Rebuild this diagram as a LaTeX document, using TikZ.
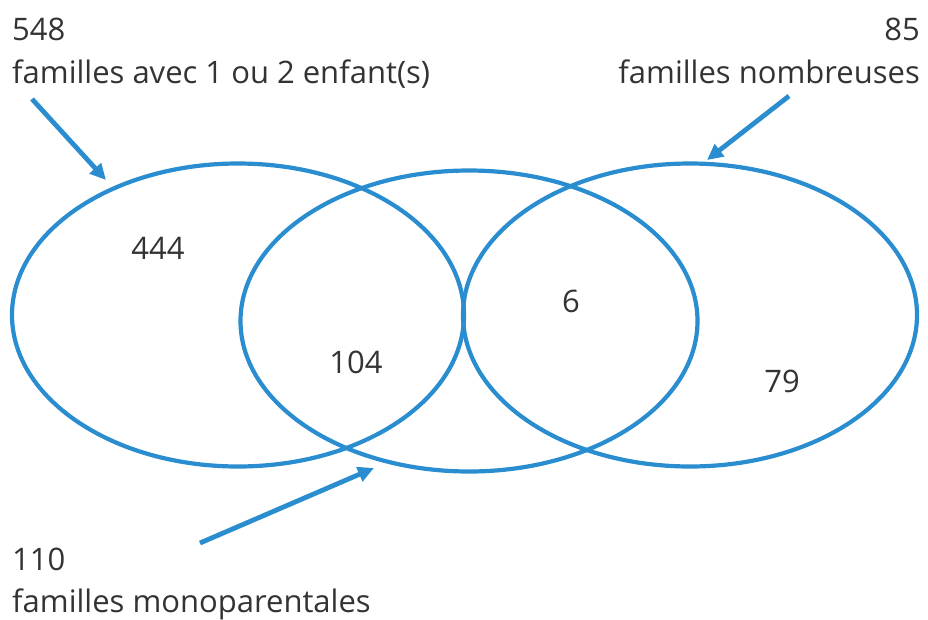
\documentclass[tikz,border=0pt]{standalone}
\usepackage{fontspec}
\setmainfont{Open Sans}
\usetikzlibrary{arrows.meta,shapes.geometric}
\definecolor{vblue}{HTML}{2A8DD0}
\definecolor{vtext}{HTML}{333333}
\tikzset{
  setellipse/.style={draw=vblue, line width=4.2pt, ellipse, inner sep=0pt},
  pointer/.style={draw=vblue, line width=4.8pt, -{Triangle[length=16pt,width=15pt]}},
  lbl/.style={text=vtext, font=\fontsize{31}{36}\selectfont, inner sep=0pt},
}
\begin{document}
\begin{tikzpicture}[x=1pt,y=-1pt]
\useasboundingbox (0,0) rectangle (928,619);
\node[setellipse, minimum width=452pt, minimum height=303pt] (e1) at (238,315) {};
\node[setellipse, minimum width=457pt, minimum height=301pt] (e2) at (469,321) {};
\node[setellipse, minimum width=454pt, minimum height=303pt] (e3) at (690,315) {};

\node[lbl, anchor=base west] (t1) at (12,40) {548};
\node[lbl, anchor=base west] (t1b) at (12,83) {familles avec 1 ou 2 enfant(s)};
\node[lbl, anchor=base east] (t3) at (920,40) {85};
\node[lbl, anchor=base east] (t3b) at (920,83) {familles nombreuses};
\node[lbl, anchor=base west] (t2) at (12,570) {110};
\node[lbl, anchor=base west] (t2b) at (12,612) {familles monoparentales};

\node[lbl] (n444) at (158,248) {444};
\node[lbl] (n104) at (356,362) {104};
\node[lbl] (n6) at (571,301) {6};
\node[lbl] (n79) at (782,381) {79};

\coordinate (a1s) at (32,99);
\coordinate (a1e) at (106,180);
\coordinate (a3s) at (789,96);
\coordinate (a3e) at (707,160);
\coordinate (a2s) at (200,543);
\coordinate (a2e) at (374,468);
\draw[pointer] (a1s) -- (a1e);
\draw[pointer] (a3s) -- (a3e);
\draw[pointer] (a2s) -- (a2e);
\end{tikzpicture}
\end{document}
